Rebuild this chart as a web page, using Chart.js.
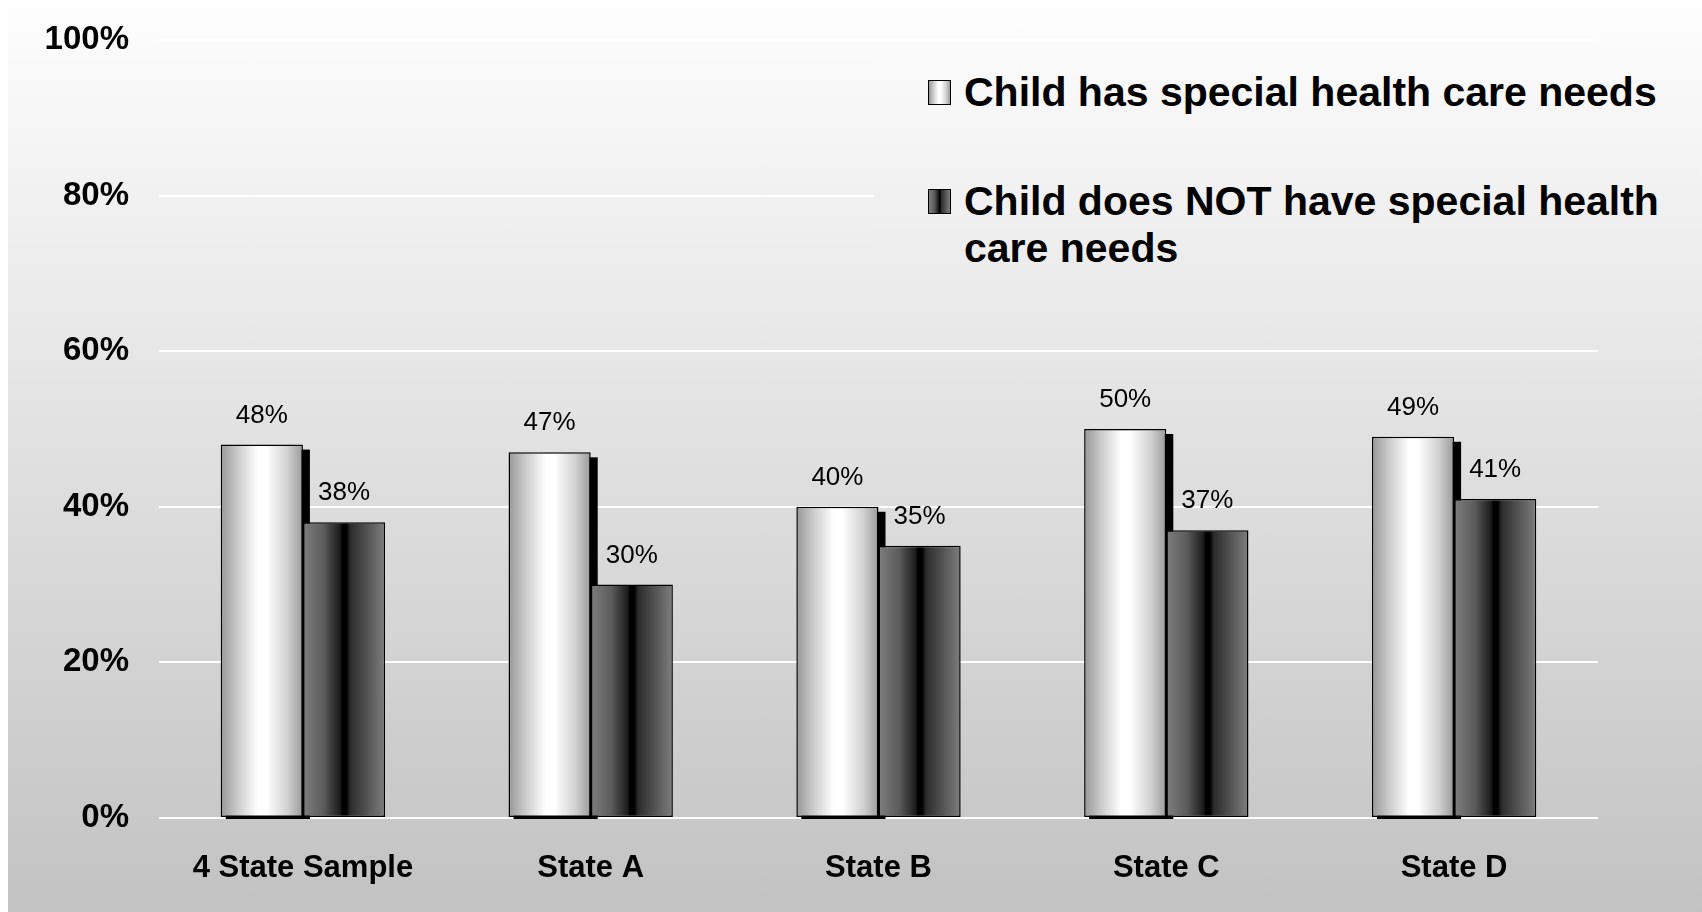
<!DOCTYPE html>
<html>
<head>
<meta charset="utf-8">
<script src="https://cdn.jsdelivr.net/npm/chart.js@4.4.1/dist/chart.umd.min.js"></script>
<style>
  html, body { margin: 0; padding: 0; background: #fff; overflow: hidden; }
  #bg { position: absolute; left: 8px; top: 7px; right: 0; bottom: 0;
        background: linear-gradient(to bottom, #fdfdfd 7px, #c2c2c2 912px) fixed; }
  #wrap { position: absolute; left: 0; top: 0; width: 1702px; height: 912px; }
  #legend { position: absolute; left: 874px; top: 52px; width: 828px; height: 228px;
            background: linear-gradient(to bottom, #fdfdfd 7px, #c2c2c2 912px) fixed;
            font-family: 'Liberation Sans', Arial, sans-serif; font-weight: bold; font-size: 41px; color: #000; }
  .item { position: absolute; left: 0; width: 828px; }
  .box { position: absolute; left: 54px; width: 21px; height: 23px; border: 1px solid #000; }
  .txt { position: absolute; left: 90px; width: 720px; line-height: 47px; }
</style>
</head>
<body>
<div id="bg"></div>
<div id="wrap"><canvas id="chart" width="1702" height="912"></canvas></div>
<div id="legend"></div>
<script>
  // Data
  const categories = ['4 State Sample', 'State A', 'State B', 'State C', 'State D'];
  const seriesNames = ['Child has special health care needs', 'Child does NOT have special health care needs'];
  const withNeeds = [48, 47, 40, 50, 49];
  const withoutNeeds = [38, 30, 35, 37, 41];
  const yTicks = [0, 20, 40, 60, 80, 100];

  const lightStops = [[0, '#979797'], [0.2, '#c9c9c9'], [0.45, '#ffffff'], [0.56, '#ffffff'], [0.82, '#cfcfcf'], [1, '#9a9a9a']];
  const darkStops = [[0, '#7e7e7e'], [0.25, '#5c5c5c'], [0.45, '#1c1c1c'], [0.48, '#000000'], [0.53, '#000000'], [0.58, '#2c2c2c'], [1, '#7e7e7e']];
  const catPct = 0.571;

  // horizontal gradient across one bar, placed from the x scale
  function barFill(c, stops) {
    const xs = c.chart.scales.x;
    if (c.dataIndex === undefined || !xs) return '#ccc';
    const center = xs.getPixelForValue(c.dataIndex);
    const w = xs.width / categories.length * catPct / 2;
    const x0 = c.datasetIndex === 0 ? center - w : center;
    if (!isFinite(x0) || !isFinite(w) || w <= 0) return '#ccc';
    const g = c.chart.ctx.createLinearGradient(x0, 0, x0 + w, 0);
    stops.forEach(s => g.addColorStop(s[0], s[1]));
    return g;
  }

  // legend in html (second entry wraps over two lines)
  const legend = document.getElementById('legend');
  [[lightStops, 17], [darkStops, 126]].forEach((it, i) => {
    const d = document.createElement('div');
    d.className = 'item';
    d.style.top = it[1] + 'px';
    const css = it[0].map(s => s[1] + ' ' + (s[0] * 100) + '%').join(',');
    d.innerHTML = '<div class="box" style="top:11px;background:linear-gradient(to right,' + css + ')"></div>' +
                  '<div class="txt">' + seriesNames[i] + '</div>';
    legend.appendChild(d);
  });

  const barExtras = {
    id: 'barExtras',
    beforeDatasetsDraw(chart) {
      // 3d shadow behind the light bars
      const ctx = chart.ctx;
      ctx.save();
      ctx.fillStyle = '#000';
      chart.getDatasetMeta(0).data.forEach(el => {
        ctx.fillRect(el.x - el.width / 2 + 5, el.y + 5, el.width + 2, el.base - el.y - 3);
      });
      ctx.restore();
    },
    afterDatasetsDraw(chart) {
      const ctx = chart.ctx;
      ctx.save();
      ctx.font = '26px "Liberation Sans", Arial, sans-serif';
      ctx.fillStyle = '#000';
      ctx.textAlign = 'center';
      ctx.textBaseline = 'alphabetic';
      chart.data.datasets.forEach((ds, di) => {
        chart.getDatasetMeta(di).data.forEach((el, i) => {
          ctx.fillText(ds.data[i] + '%', el.x, el.y - 22);
        });
      });
      ctx.restore();
    }
  };

  const barOpts = { borderColor: '#000000', borderWidth: 1.5, borderSkipped: false,
                    categoryPercentage: catPct, barPercentage: 1.0 };

  new Chart(document.getElementById('chart').getContext('2d'), {
    type: 'bar',
    data: {
      labels: categories,
      datasets: [
        Object.assign({ label: seriesNames[0], data: withNeeds, backgroundColor: c => barFill(c, lightStops) }, barOpts),
        Object.assign({ label: seriesNames[1], data: withoutNeeds, backgroundColor: c => barFill(c, darkStops) }, barOpts)
      ]
    },
    options: {
      responsive: false,
      animation: false,
      layout: { padding: { top: 40, right: 104, bottom: 0, left: 0 } },
      plugins: { legend: { display: false }, tooltip: { enabled: false } },
      scales: {
        x: {
          grid: { display: false, drawTicks: false },
          border: { display: false },
          ticks: { color: '#000', padding: 32, maxRotation: 0, autoSkip: false,
                   font: { family: '"Liberation Sans", Arial, sans-serif', weight: 'bold', size: 31 } },
          afterFit: s => { s.height = 94; s.paddingLeft = 0; s.paddingRight = 0; }
        },
        y: {
          min: 0, max: 100,
          afterBuildTicks: s => { s.ticks = yTicks.map(v => ({ value: v })); },
          grid: { color: '#ffffff', lineWidth: 2, drawTicks: false },
          border: { display: false },
          ticks: { color: '#000', padding: 30, callback: v => v + '%',
                   font: { family: '"Liberation Sans", Arial, sans-serif', weight: 'bold', size: 33 } },
          afterFit: s => { s.width = 159; s.paddingTop = 0; s.paddingBottom = 0; }
        }
      }
    },
    plugins: [barExtras]
  });
</script>
</body>
</html>
